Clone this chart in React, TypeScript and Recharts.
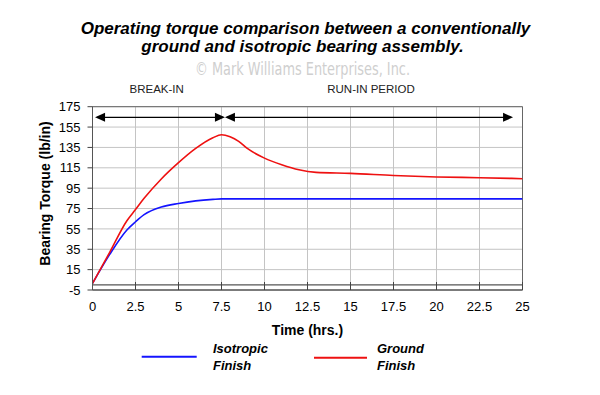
import React from 'react';
import {
  LineChart,
  Line,
  XAxis,
  YAxis,
  CartesianGrid,
  ReferenceLine,
  ReferenceArea,
} from 'recharts';

// ---- data ----
const times = [0, 1, 2, 2.5, 3, 4, 5, 6, 7, 7.5, 8, 8.5, 9, 10, 11, 12, 13, 15, 17.5, 20, 22.5, 25];
const isotropic = [1.5, 30, 54, 62, 69, 76.5, 80, 82.5, 84, 84.5, 84.5, 84.5, 84.5, 84.5, 84.5, 84.5, 84.5, 84.5, 84.5, 84.5, 84.5, 84.5];
const ground = [1.5, 32, 63, 74, 85, 104, 120, 134, 144.5, 147.5, 145.5, 141, 134, 124.5, 118, 113, 110.5, 109.5, 107.5, 106, 105.3, 104.3];

const xTicks = [0, 2.5, 5, 7.5, 10, 12.5, 15, 17.5, 20, 22.5, 25];
const yTicks = [-5, 15, 35, 55, 75, 95, 115, 135, 155, 175];

const seriesNames = ['Isotropic Finish', 'Ground Finish'];
const seriesColors = ['#1414ff', '#ee1111'];

const titleLines = [
  'Operating torque comparison between a conventionally',
  'ground and isotropic bearing assembly.',
];
const watermark = '\u00A9 Mark Williams Enterprises, Inc.';
const periodLabels = ['BREAK-IN', 'RUN-IN PERIOD'];
// arrows: [start, end] in hours, drawn at torque level arrowLevel
const breakInSpan = [0.15, 7.7];
const runInSpan = [7.7, 24.45];
const arrowLevel = 164.6;

const xLabel = 'Time (hrs.)';
const yLabel = 'Bearing Torque (lb/in)';

const rows = times.map((t, i) => ({ t, iso: isotropic[i], ground: ground[i] }));

const FONT = '"Liberation Sans", Arial, Helvetica, sans-serif';

const ArrowShape = (props: any) => {
  const { x1, y1, x2, y2 } = props;
  const L = 10;
  const H = 4.5;
  const left = Math.min(x1, x2);
  const right = Math.max(x1, x2);
  const y = (y1 + y2) / 2;
  return (
    <g>
      <line x1={left + 2} y1={y} x2={right - 2} y2={y} stroke="#000" strokeWidth={1.2} />
      <polygon points={`${left},${y} ${left + L},${y - H} ${left + L},${y + H}`} fill="#000" />
      <polygon points={`${right},${y} ${right - L},${y - H} ${right - L},${y + H}`} fill="#000" />
    </g>
  );
};

export default function App() {
  return (
    <div style={{ position: 'absolute', left: 0, top: 0, width: 600, height: 395, background: '#fff' }}>
      <LineChart
        width={600}
        height={395}
        data={rows}
        margin={{ top: 106.7, right: 77.5, bottom: 75, left: 32.5 }}
      >
        <CartesianGrid stroke="#c4c4c4" strokeWidth={1} />
        <XAxis
          dataKey="t"
          type="number"
          domain={[0, 25]}
          ticks={xTicks}
          allowDataOverflow
          height={30}
          tickSize={-8}
          tickMargin={19.5}
          axisLine={{ stroke: '#555', strokeWidth: 1 }}
          tickLine={{ stroke: '#444', strokeWidth: 1 }}
          tick={{ fill: '#000', fontSize: 13, fontFamily: FONT }}
          interval={0}
        />
        <YAxis
          type="number"
          domain={[-5, 175]}
          ticks={yTicks}
          allowDataOverflow
          width={60}
          tickSize={5}
          tickMargin={7}
          axisLine={{ stroke: '#555', strokeWidth: 1 }}
          tickLine={{ stroke: '#444', strokeWidth: 1 }}
          tick={{ fill: '#000', fontSize: 13, fontFamily: FONT }}
          interval={0}
        />
        <ReferenceArea x1={0} x2={25} y1={-5} y2={175} fill="none" stroke="#666" strokeWidth={1} />
        <ReferenceLine y={0} stroke="#555" strokeWidth={1.2} />
        <Line
          dataKey="iso"
          name={seriesNames[0]}
          type="monotone"
          stroke={seriesColors[0]}
          strokeWidth={1.6}
          dot={false}
          isAnimationActive={false}
        />
        <Line
          dataKey="ground"
          name={seriesNames[1]}
          type="monotone"
          stroke={seriesColors[1]}
          strokeWidth={1.6}
          dot={false}
          isAnimationActive={false}
        />
        <ReferenceLine
          segment={[{ x: breakInSpan[0], y: arrowLevel }, { x: breakInSpan[1], y: arrowLevel }]}
          shape={ArrowShape}
        />
        <ReferenceLine
          segment={[{ x: runInSpan[0], y: arrowLevel }, { x: runInSpan[1], y: arrowLevel }]}
          shape={ArrowShape}
        />
      </LineChart>
      <svg
        width={600}
        height={395}
        style={{ position: 'absolute', left: 0, top: 0, pointerEvents: 'none' }}
      >
        <g fontFamily={FONT}>
          <text x={305.5} y={34} textAnchor="middle" fontSize={17} fontWeight="bold" fontStyle="italic" fill="#000">
            {titleLines[0]}
          </text>
          <text x={302.5} y={52} textAnchor="middle" fontSize={17} fontWeight="bold" fontStyle="italic" fill="#000">
            {titleLines[1]}
          </text>
          <text
            x={302.5}
            y={75}
            textAnchor="middle"
            fontSize={18.5}
            fill="#cfcfcf"
            fontFamily='"Liberation Sans Narrow", "DejaVu Sans Condensed", Arial, sans-serif'
            textLength={215}
            lengthAdjust="spacingAndGlyphs"
          >
            {watermark}
          </text>
          <text x={156.7} y={93.3} textAnchor="middle" fontSize={11.5} fill="#222">
            {periodLabels[0]}
          </text>
          <text x={371} y={93.3} textAnchor="middle" fontSize={11.5} fill="#222">
            {periodLabels[1]}
          </text>
          <text x={307.5} y={335} textAnchor="middle" fontSize={14} fontWeight="bold" fill="#000">
            {xLabel}
          </text>
          <text
            x={0}
            y={0}
            transform="translate(50,193.5) rotate(-90)"
            textAnchor="middle"
            fontSize={14}
            fontWeight="bold"
            fill="#000"
          >
            {yLabel}
          </text>
          {/* legend */}
          <line x1={141.7} y1={356.7} x2={196.7} y2={356.7} stroke={seriesColors[0]} strokeWidth={2} />
          <text x={213} y={353.3} fontSize={13} fontWeight="bold" fontStyle="italic" fill="#000">
            {seriesNames[0].split(' ')[0]}
          </text>
          <text x={213} y={370} fontSize={13} fontWeight="bold" fontStyle="italic" fill="#000">
            {seriesNames[0].split(' ')[1]}
          </text>
          <line x1={314} y1={357.7} x2={367} y2={357.7} stroke={seriesColors[1]} strokeWidth={2} />
          <text x={377} y={353.3} fontSize={13} fontWeight="bold" fontStyle="italic" fill="#000">
            {seriesNames[1].split(' ')[0]}
          </text>
          <text x={377} y={370} fontSize={13} fontWeight="bold" fontStyle="italic" fill="#000">
            {seriesNames[1].split(' ')[1]}
          </text>
        </g>
      </svg>
    </div>
  );
}
